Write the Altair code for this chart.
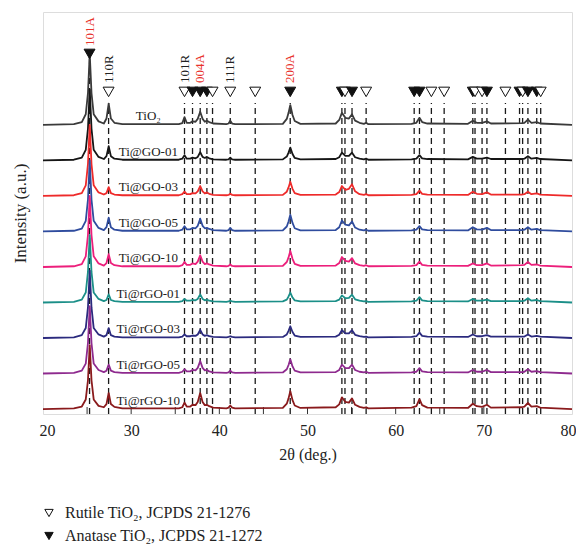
import altair as alt
import pandas as pd

# ---------------- data ----------------
two_theta = [20.0, 23.5, 24.4, 24.85, 25.1, 25.3, 25.5, 25.75, 26.3, 26.9, 27.2, 27.45, 27.7, 28.1, 29.0,
             35.4, 35.8, 36.05, 36.3, 36.7, 36.96, 37.3, 37.55, 37.83, 38.1, 38.35, 38.59, 38.85, 39.3,
             40.8, 41.05, 41.24, 41.45, 41.8,
             47.2, 47.65, 47.85, 48.05, 48.3, 48.55, 49.2, 53.2, 53.6, 53.9, 54.3, 54.7, 55.05, 55.4,
             55.9, 56.4, 56.65, 56.9,
             61.8, 62.35, 62.7, 63.0, 63.6, 68.2, 68.75, 69.2, 69.8, 70.35, 70.8, 74.3, 74.6, 75.0,
             75.4, 76.0, 76.4, 80.0]

i_tio2 = [0.0, 0.02, 0.08, 0.3, 0.9, 2.0, 0.9, 0.3, 0.1, 0.04, 0.18, 0.6, 0.18, 0.06, 0.02,
          0.02, 0.05, 0.22, 0.06, 0.06, 0.1, 0.09, 0.17, 0.37, 0.17, 0.09, 0.12, 0.08, 0.04, 0.02, 0.04, 0.12, 0.04, 0.02,
          0.03, 0.17, 0.34, 0.56, 0.28, 0.11, 0.03, 0.04, 0.14, 0.34, 0.2, 0.18, 0.3, 0.12, 0.06, 0.03, 0.06, 0.02,
          0.03, 0.06, 0.2, 0.08, 0.04, 0.03, 0.12, 0.06, 0.06, 0.1, 0.04, 0.05, 0.06, 0.15, 0.06, 0.08, 0.04, 0.0]
i_go01 = [0.0, 0.02, 0.08, 0.3, 0.9, 2.0, 0.9, 0.3, 0.1, 0.04, 0.12, 0.4, 0.12, 0.05, 0.02,
          0.02, 0.05, 0.15, 0.05, 0.05, 0.08, 0.06, 0.1, 0.23, 0.1, 0.07, 0.1, 0.06, 0.03, 0.02, 0.03, 0.08, 0.03, 0.02,
          0.03, 0.11, 0.22, 0.36, 0.18, 0.07, 0.03, 0.04, 0.09, 0.22, 0.13, 0.13, 0.22, 0.09, 0.05, 0.03, 0.05, 0.02,
          0.03, 0.05, 0.15, 0.06, 0.04, 0.03, 0.1, 0.05, 0.05, 0.08, 0.04, 0.04, 0.05, 0.12, 0.05, 0.07, 0.04, 0.0]
i_go03 = [0.0, 0.02, 0.08, 0.3, 0.9, 2.0, 0.9, 0.3, 0.1, 0.04, 0.08, 0.25, 0.08, 0.04, 0.02,
          0.02, 0.05, 0.12, 0.05, 0.05, 0.08, 0.07, 0.13, 0.28, 0.13, 0.07, 0.1, 0.06, 0.03, 0.02, 0.03, 0.06, 0.03, 0.02,
          0.03, 0.12, 0.24, 0.4, 0.2, 0.08, 0.03, 0.04, 0.11, 0.28, 0.17, 0.2, 0.33, 0.13, 0.05, 0.03, 0.05, 0.02,
          0.03, 0.05, 0.15, 0.06, 0.04, 0.03, 0.12, 0.06, 0.05, 0.1, 0.04, 0.04, 0.05, 0.12, 0.05, 0.07, 0.04, 0.0]
i_go05 = [0.0, 0.02, 0.08, 0.3, 0.9, 2.0, 0.9, 0.3, 0.1, 0.04, 0.12, 0.39, 0.12, 0.05, 0.02,
          0.02, 0.05, 0.15, 0.06, 0.06, 0.1, 0.09, 0.16, 0.36, 0.16, 0.09, 0.1, 0.07, 0.04, 0.02, 0.04, 0.1, 0.04, 0.02,
          0.03, 0.14, 0.28, 0.47, 0.24, 0.09, 0.03, 0.04, 0.12, 0.31, 0.19, 0.17, 0.28, 0.11, 0.05, 0.03, 0.05, 0.02,
          0.03, 0.05, 0.15, 0.06, 0.04, 0.03, 0.12, 0.06, 0.05, 0.1, 0.04, 0.04, 0.05, 0.12, 0.05, 0.07, 0.04, 0.0]
i_go10 = [0.0, 0.02, 0.08, 0.3, 0.9, 2.0, 0.9, 0.3, 0.1, 0.04, 0.11, 0.36, 0.11, 0.05, 0.02,
          0.02, 0.05, 0.14, 0.06, 0.06, 0.1, 0.08, 0.15, 0.33, 0.15, 0.08, 0.1, 0.07, 0.04, 0.02, 0.03, 0.07, 0.03, 0.02,
          0.03, 0.14, 0.27, 0.45, 0.23, 0.09, 0.03, 0.04, 0.11, 0.28, 0.17, 0.15, 0.25, 0.1, 0.05, 0.03, 0.05, 0.02,
          0.03, 0.05, 0.15, 0.06, 0.04, 0.03, 0.1, 0.05, 0.05, 0.1, 0.04, 0.05, 0.06, 0.14, 0.06, 0.07, 0.04, 0.0]
i_rgo01 = [0.0, 0.02, 0.08, 0.28, 0.86, 1.9, 0.86, 0.28, 0.1, 0.04, 0.07, 0.23, 0.07, 0.04, 0.02,
           0.02, 0.04, 0.1, 0.05, 0.05, 0.07, 0.06, 0.1, 0.23, 0.1, 0.06, 0.08, 0.05, 0.03, 0.02, 0.03, 0.05, 0.03, 0.02,
           0.03, 0.08, 0.17, 0.28, 0.14, 0.06, 0.03, 0.04, 0.08, 0.2, 0.12, 0.13, 0.22, 0.09, 0.05, 0.03, 0.04, 0.02,
           0.03, 0.05, 0.15, 0.06, 0.04, 0.03, 0.1, 0.05, 0.05, 0.08, 0.04, 0.04, 0.05, 0.12, 0.05, 0.07, 0.04, 0.0]
i_rgo03 = [0.0, 0.02, 0.08, 0.28, 0.86, 1.9, 0.86, 0.28, 0.1, 0.04, 0.08, 0.28, 0.08, 0.04, 0.02,
           0.02, 0.04, 0.1, 0.05, 0.05, 0.07, 0.06, 0.1, 0.23, 0.1, 0.06, 0.08, 0.05, 0.03, 0.02, 0.03, 0.05, 0.03, 0.02,
           0.03, 0.1, 0.2, 0.33, 0.17, 0.07, 0.03, 0.04, 0.09, 0.22, 0.13, 0.13, 0.22, 0.09, 0.05, 0.03, 0.04, 0.02,
           0.03, 0.05, 0.15, 0.06, 0.04, 0.03, 0.1, 0.05, 0.05, 0.08, 0.04, 0.04, 0.04, 0.1, 0.04, 0.06, 0.04, 0.0]
i_rgo05 = [0.0, 0.02, 0.08, 0.28, 0.86, 1.9, 0.86, 0.28, 0.1, 0.04, 0.08, 0.25, 0.08, 0.04, 0.02,
           0.02, 0.05, 0.12, 0.06, 0.06, 0.1, 0.09, 0.16, 0.35, 0.16, 0.09, 0.1, 0.06, 0.03, 0.02, 0.03, 0.08, 0.03, 0.02,
           0.03, 0.12, 0.24, 0.4, 0.2, 0.08, 0.03, 0.04, 0.1, 0.25, 0.15, 0.15, 0.25, 0.1, 0.05, 0.03, 0.05, 0.02,
           0.03, 0.05, 0.15, 0.06, 0.04, 0.03, 0.1, 0.05, 0.05, 0.1, 0.04, 0.04, 0.05, 0.12, 0.05, 0.07, 0.04, 0.0]
i_rgo10 = [0.0, 0.02, 0.07, 0.27, 0.81, 1.8, 0.81, 0.27, 0.09, 0.05, 0.14, 0.45, 0.14, 0.06, 0.02,
           0.02, 0.05, 0.18, 0.07, 0.07, 0.12, 0.11, 0.2, 0.45, 0.2, 0.11, 0.12, 0.08, 0.04, 0.02, 0.04, 0.1, 0.04, 0.02,
           0.03, 0.15, 0.3, 0.5, 0.25, 0.1, 0.03, 0.05, 0.13, 0.33, 0.2, 0.18, 0.3, 0.12, 0.06, 0.03, 0.05, 0.02,
           0.04, 0.08, 0.28, 0.11, 0.04, 0.03, 0.15, 0.08, 0.06, 0.12, 0.04, 0.05, 0.07, 0.17, 0.07, 0.08, 0.04, 0.0]

samples = ["TiO₂", "Ti@GO-01", "Ti@GO-03", "Ti@GO-05", "Ti@GO-10",
           "Ti@rGO-01", "Ti@rGO-03", "Ti@rGO-05", "Ti@rGO-10"]
offsets = [8.14, 7.14, 6.14, 5.14, 4.14, 3.14, 2.14, 1.14, 0.14]
series = [i_tio2, i_go01, i_go03, i_go05, i_go10, i_rgo01, i_rgo03, i_rgo05, i_rgo10]
colors = ["#3a3a3a", "#161616", "#ee2a2a", "#2f4c9e", "#ec1f7b",
          "#1b8f88", "#2b2a7e", "#8e2a8e", "#8a1a1c"]

ref_pos = [25.28, 27.44, 36.05, 36.96, 37.83, 38.59, 39.23, 41.24, 44.07, 48.04,
           53.9, 54.25, 55.05, 56.65, 62.1, 62.7, 64.05, 65.5, 68.75, 69.0, 69.8, 70.35,
           72.45, 74.05, 74.4, 75.0, 76.0, 76.45]
ref_phase = ["A", "R", "R", "A", "A", "A", "R", "R", "R", "A",
             "A", "R", "A", "R", "A", "A", "R", "R", "A", "R", "R", "A",
             "R", "A", "R", "A", "A", "R"]

peak_label_pos = [25.28, 27.44, 36.05, 37.83, 41.24, 48.04]
peak_label_text = ["101A", "110R", "101R", "004A", "111R", "200A"]

legend_rutile = "Rutile TiO₂, JCPDS 21-1276"
legend_anatase = "Anatase TiO₂, JCPDS 21-1272"

tick_pos = [25, 30, 35, 40, 45, 50, 55, 60, 65, 70, 75]

# ---------------- layout constants ----------------
FONT = "Liberation Serif"
Y_MAX = 11.32
MARK_LEVEL = 9.07
MARK_LEVEL_MAIN = 10.14
LINE_TOP = 8.76
LINE_TOP_MAIN = 10.0
LABEL_LEVEL = 9.32
LABEL_LEVEL_MAIN = 10.36
SAMPLE_LABEL_X = 31.95

x_scale = alt.Scale(domain=[20, 80], nice=False, zero=False)
y_scale = alt.Scale(domain=[0, Y_MAX], nice=False, zero=False)
x_axis = alt.Axis(title="2θ (deg.)", values=[20, 30, 40, 50, 60, 70, 80], ticks=False,
                  domain=False, grid=False, labelFont=FONT, labelFontSize=16,
                  labelColor="#222", labelPadding=8, labelFlush=True, labelFlushOffset=4,
                  titleFont=FONT, titleFontSize=16, titleFontWeight="normal",
                  titleColor="#222", titlePadding=8)
y_axis = alt.Axis(title="Intensity (a.u.)", labels=False, ticks=False, domain=False,
                  grid=False, titleFont=FONT, titleFontSize=17, titleFontWeight="normal",
                  titleColor="#222", titlePadding=14)


def X(field="x"):
    return alt.X(f"{field}:Q", scale=x_scale, axis=x_axis)


def Y(field="y"):
    return alt.Y(f"{field}:Q", scale=y_scale, axis=y_axis)


# ---------------- tables ----------------
is_main = [p == 25.28 for p in ref_pos]
ref_df = pd.DataFrame({
    "x": ref_pos,
    "y0": [0.0] * len(ref_pos),
    "ytop": [LINE_TOP_MAIN if m else LINE_TOP for m in is_main],
    "ymark": [MARK_LEVEL_MAIN if m else MARK_LEVEL for m in is_main],
    "phase": [legend_rutile if p == "R" else legend_anatase for p in ref_phase],
})

lbl_df = pd.DataFrame({
    "x": peak_label_pos,
    "y": [LABEL_LEVEL_MAIN if p == 25.28 else LABEL_LEVEL for p in peak_label_pos],
    "text": peak_label_text,
})
lbl_a = lbl_df[lbl_df["text"].str.endswith("A")]
lbl_r = lbl_df[lbl_df["text"].str.endswith("R")]

tick_df = pd.DataFrame({"x": tick_pos})

layers = []

layers.append(
    alt.Chart(tick_df).mark_rule(color="#333", strokeWidth=1).encode(
        x=X(), y=alt.value(402), y2=alt.value(395))
)

layers.append(
    alt.Chart(ref_df).mark_rule(color="#1a1a1a", strokeWidth=1.3, strokeDash=[6, 4]).encode(
        x=X(), y=Y("y0"), y2="ytop:Q")
)

for name, off, vals, col in zip(samples, offsets, series, colors):
    df = pd.DataFrame({"x": two_theta, "y": [off + v for v in vals]})
    layers.append(
        alt.Chart(df).mark_line(color=col, strokeWidth=1.8, strokeJoin="round").encode(
            x=X(), y=Y())
    )

sample_df = pd.DataFrame({
    "x": [SAMPLE_LABEL_X] * len(samples),
    "y": [o + 0.24 for o in offsets],
    "text": samples,
})
layers.append(
    alt.Chart(sample_df).mark_text(font=FONT, fontSize=13, color="#222").encode(
        x=X(), y=Y(), text="text:N")
)

layers.append(
    alt.Chart(ref_df).mark_point(shape="triangle-down", filled=True, size=120,
                                 stroke="#111", strokeWidth=1, opacity=1).encode(
        x=X(), y=Y("ymark"),
        fill=alt.Fill("phase:N",
                      scale=alt.Scale(domain=[legend_rutile, legend_anatase],
                                      range=["white", "#111"]),
                      legend=alt.Legend(title=None, orient="none", legendX=-2, legendY=493,
                                        direction="vertical", symbolType="triangle-down",
                                        symbolSize=70, symbolStrokeColor="#111",
                                        symbolStrokeWidth=1, labelFont=FONT,
                                        labelFontSize=16, labelColor="#222", labelLimit=0,
                                        labelOffset=8, rowPadding=7)))
)

layers.append(
    alt.Chart(lbl_a).mark_text(font=FONT, fontSize=13, color="#e8322c", angle=270,
                               align="left", baseline="middle").encode(
        x=X(), y=Y(), text="text:N")
)
layers.append(
    alt.Chart(lbl_r).mark_text(font=FONT, fontSize=13, color="#222", angle=270,
                               align="left", baseline="middle").encode(
        x=X(), y=Y(), text="text:N")
)

chart = alt.layer(*layers).properties(
    width=529, height=402,
    autosize=alt.AutoSizeParams(type="none"),
    padding={"left": 35, "top": 4, "right": 4, "bottom": 136},
).configure_view(stroke="#444", strokeWidth=1.2).configure(background="white")

chart.save("out.html", embed_options={"renderer": "svg", "actions": False})
